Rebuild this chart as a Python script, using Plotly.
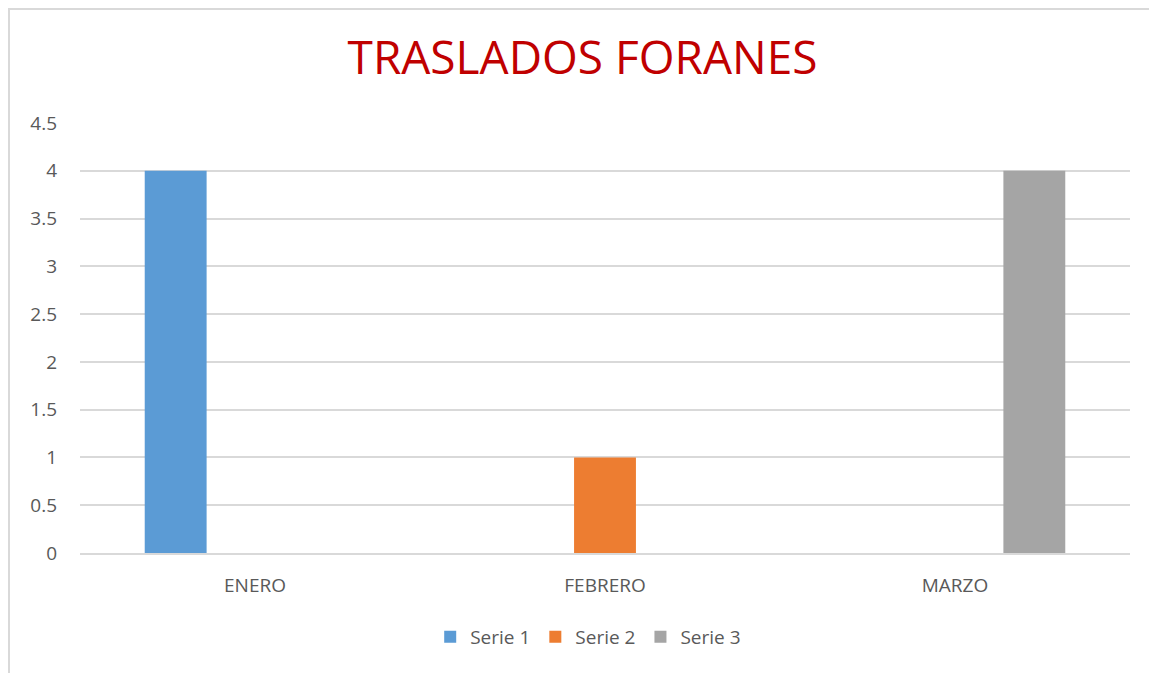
import plotly.graph_objects as go

categories = ["ENERO", "FEBRERO", "MARZO"]
serie1 = [4, 0, 0]
serie2 = [0, 1, 0]
serie3 = [0, 0, 4]
series_names = ["Serie 1", "Serie 2", "Serie 3"]
colors = ["#5B9BD5", "#ED7D31", "#A5A5A5"]
y_ticks = [0, 0.5, 1, 1.5, 2, 2.5, 3, 3.5, 4, 4.5]
y_tick_labels = ["0", "0.5", "1", "1.5", "2", "2.5", "3", "3.5", "4", "4.5"]

FONT = "Open Sans, Liberation Sans, sans-serif"

fig = go.Figure()
for name, vals, c in zip(series_names, [serie1, serie2, serie3], colors):
    fig.add_trace(go.Bar(x=categories, y=vals, name=name, marker=dict(color=c, line=dict(width=0))))

fig.update_layout(
    width=1149, height=665,
    paper_bgcolor="white", plot_bgcolor="white",
    margin=dict(l=72, r=27, t=115, b=120),
    barmode="group", bargap=0.32, bargroupgap=0.22,
    title=dict(text="TRASLADOS FORANES", x=0.5, xanchor="center", y=0.9248, yanchor="middle",
               font=dict(family=FONT, size=46, color="#C00000")),
    font=dict(family=FONT, color="#595959", size=19),
    xaxis=dict(showgrid=False, showline=True, linecolor="#D9D9D9", linewidth=1.5,
               ticks="", tickfont=dict(size=19, color="#595959"), ticklabelstandoff=14),
    yaxis=dict(range=[0, 4.5], tickvals=y_ticks, ticktext=y_tick_labels,
               showgrid=True, gridcolor="#D9D9D9", gridwidth=1.5, zeroline=False,
               showline=False, ticks="", tickfont=dict(size=19, color="#595959"),
               ticklabelstandoff=22),
    legend=dict(orientation="h", x=0.484, xanchor="center", y=-0.195, yanchor="middle",
                font=dict(size=19, color="#595959"), itemwidth=30, traceorder="normal"),
    shapes=[dict(type="rect", xref="paper", yref="paper", x0=-0.0676, x1=1.1, y0=-0.6, y1=1.265,
                 line=dict(color="#D9D9D9", width=2), fillcolor="rgba(0,0,0,0)", layer="below")],
)

fig.write_html("out.html")
